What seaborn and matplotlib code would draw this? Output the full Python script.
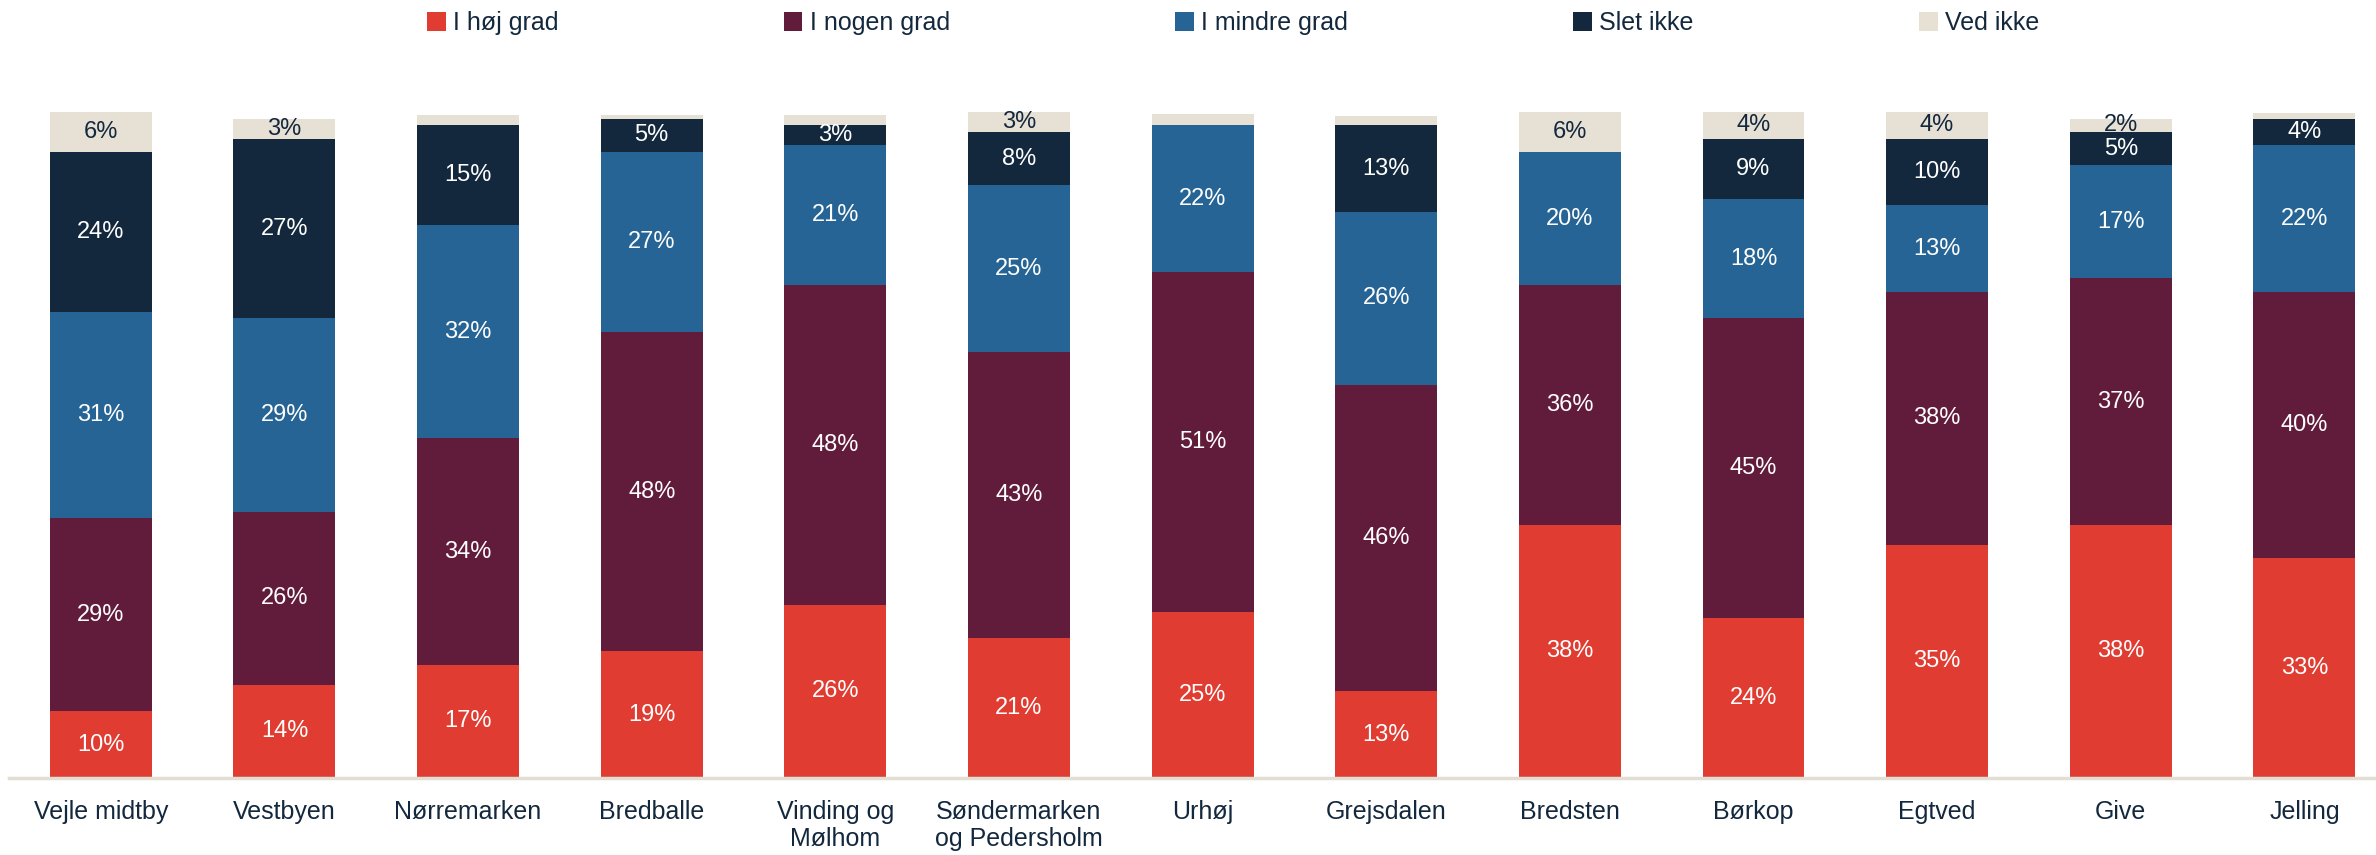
import numpy as np
import pandas as pd
import matplotlib
matplotlib.use("Agg")
import matplotlib.pyplot as plt
import seaborn as sns
from matplotlib.patches import Patch

# Survey answers per area (percent of respondents)
areas = ["Vejle midtby", "Vestbyen", "Nørremarken", "Bredballe", "Vinding og\nMølhom",
         "Søndermarken\nog Pedersholm", "Urhøj", "Grejsdalen", "Bredsten", "Børkop",
         "Egtved", "Give", "Jelling"]
hoej_grad = [10, 14, 17, 19, 26, 21, 25, 13, 38, 24, 35, 38, 33]
nogen_grad = [29, 26, 34, 48, 48, 43, 51, 46, 36, 45, 38, 37, 40]
mindre_grad = [31, 29, 32, 27, 21, 25, 22, 26, 20, 18, 13, 17, 22]
slet_ikke = [24, 27, 15, 5, 3, 8, 0, 13, 0, 9, 10, 5, 4]
ved_ikke = [6, 3, 1.6, 0.5, 1.6, 3, 1.7, 1.4, 6, 4, 4, 2, 0.8]

series_names = ["I høj grad", "I nogen grad", "I mindre grad", "Slet ikke", "Ved ikke"]
series_values = [hoej_grad, nogen_grad, mindre_grad, slet_ikke, ved_ikke]
colors = ["#E03C31", "#621C3B", "#256494", "#13283D", "#E7E1D5"]
label_colors = ["white", "white", "white", "white", "#13283D"]
text_color = "#13283D"

sns.set_theme(style="white")
plt.rcParams["font.family"] = ["Liberation Sans", "DejaVu Sans"]

df = pd.DataFrame({"area": areas})
for name, vals in zip(series_names, series_values):
    df[name] = vals
cum = df[series_names].cumsum(axis=1)

fig = plt.figure(figsize=(23.76, 8.55), dpi=100)
ax = fig.add_axes([9 / 2376, 77 / 855, 2367 / 2376, 666 / 855])

# Stacked bars: draw cumulative totals from the top segment down
for i in range(len(series_names) - 1, -1, -1):
    sns.barplot(data=cum.assign(area=areas), x="area", y=series_names[i],
                color=colors[i], width=0.555, saturation=1, linewidth=0, ax=ax,
                order=areas)

# Segment value labels
for i, name in enumerate(series_names):
    vals = df[name].to_numpy()
    tops = cum[name].to_numpy()
    for j, (v, t) in enumerate(zip(vals, tops)):
        if v >= 2:
            ax.text(j, t - v / 2, f"{v:.0f}%", ha="center", va="center",
                    color=label_colors[i], fontsize=17)

ax.set_xlim(-0.5, 12.39)
ax.set_ylim(0, 100)
ax.set_xlabel("")
ax.set_ylabel("")
ax.set_yticks([])
for s in ["top", "right", "left"]:
    ax.spines[s].set_visible(False)
ax.spines["bottom"].set_color("#E3DED4")
ax.spines["bottom"].set_linewidth(2.5)
ax.tick_params(axis="x", length=0, pad=16, labelsize=18, labelcolor=text_color)
ax.set_xticks(range(len(areas)))
ax.set_xticklabels(areas, linespacing=1.15)

handles = [Patch(facecolor=c, edgecolor="none") for c in colors]
fig.legend(handles, series_names, loc="center", bbox_to_anchor=(0.519, 0.973),
           ncol=5, frameon=False, fontsize=18, labelcolor=text_color,
           handlelength=0.75, handleheight=0.75, handletextpad=0.3,
           columnspacing=9.0)

fig.savefig("out.png", dpi=100)
